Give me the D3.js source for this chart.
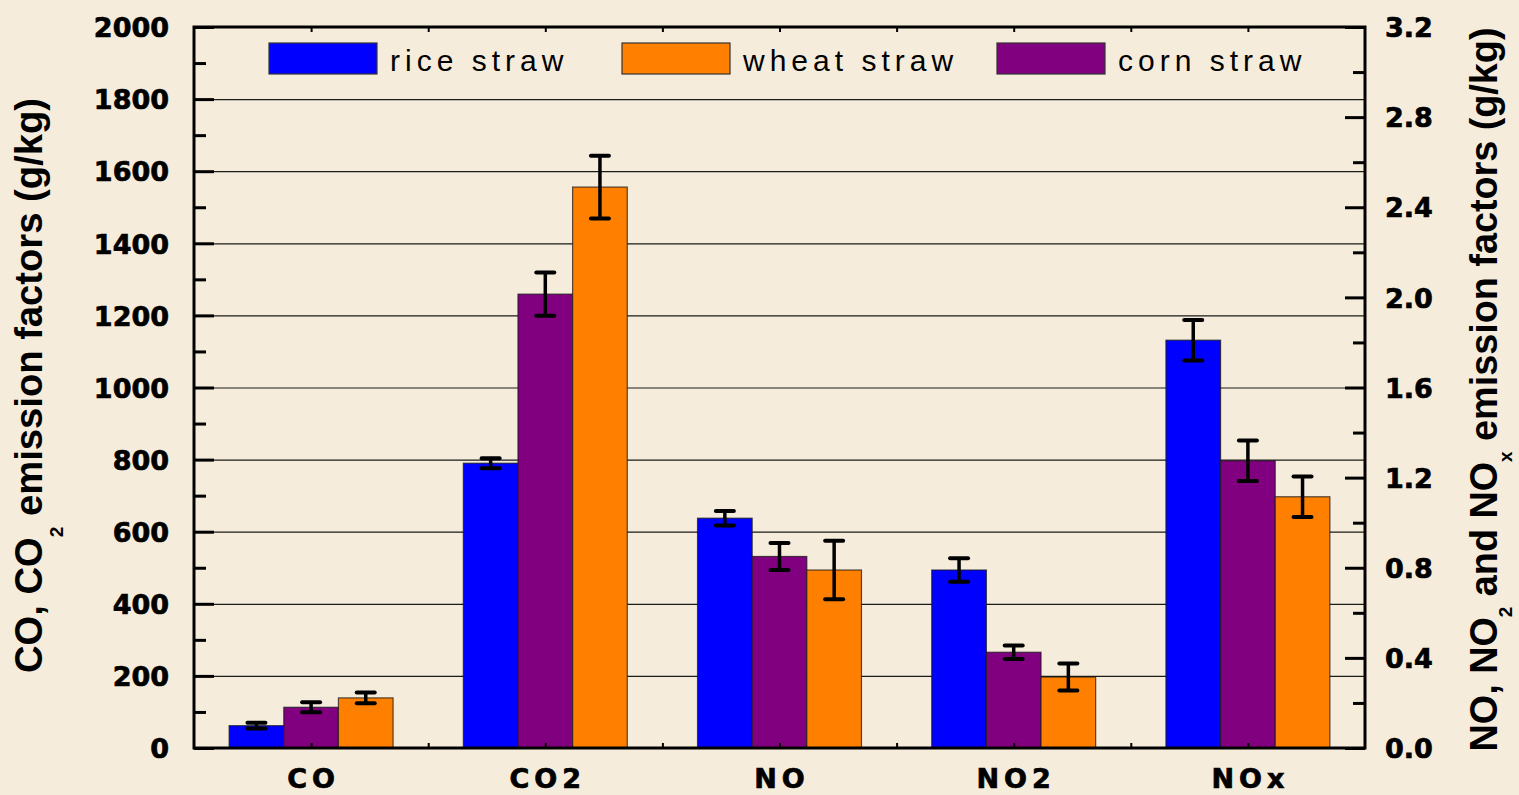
<!DOCTYPE html>
<html>
<head>
<meta charset="utf-8">
<script src="https://cdn.jsdelivr.net/npm/d3@7"></script>
<style>
  html, body { margin: 0; padding: 0; background: #f6ecdc; }
  svg { display: block; }
</style>
</head>
<body>
<div id="chart"></div>
<script>
// categories and series (CO, CO2 on left axis in g/kg; NO, NO2, NOx on right axis in g/kg)
const categories = ["CO", "CO2", "NO", "NO2", "NOx"];
const onRight = [false, false, true, true, true];
const seriesNames = ["rice straw", "corn straw", "wheat straw"];   // bar order in each group
const legendOrder = ["rice straw", "wheat straw", "corn straw"];
const colors = {"rice straw": "#0000ff", "corn straw": "#800080", "wheat straw": "#ff8000"};

const riceValues  = [62, 790, 1.02, 0.79, 1.81];
const cornValues  = [113, 1259, 0.85, 0.425, 1.275];
const wheatValues = [139, 1556, 0.79, 0.315, 1.115];
const riceErr  = [8, 14, 0.032, 0.052, 0.09];
const cornErr  = [14, 60, 0.06, 0.03, 0.09];
const wheatErr = [15, 87, 0.13, 0.06, 0.09];

const leftTicks = [0, 200, 400, 600, 800, 1000, 1200, 1400, 1600, 1800, 2000];
const rightTicks = [0, 0.4, 0.8, 1.2, 1.6, 2.0, 2.4, 2.8, 3.2];

const W = 1519, H = 795;
const plot = {left: 194, right: 1365, top: 27, bottom: 748};

const svg = d3.select("#chart").append("svg").attr("width", W).attr("height", H);

const x = d3.scaleBand().domain(categories).range([plot.left, plot.right]).padding(0);
const xs = d3.scaleBand().domain(seriesNames)
  .range([x.bandwidth() * 0.15, x.bandwidth() * 0.85]).padding(0);
const xIdx = d3.scaleLinear().domain([0, categories.length]).range([plot.left, plot.right]);
const yL = d3.scaleLinear().domain([0, 2000]).range([plot.bottom, plot.top]);
const yR = d3.scaleLinear().domain([0, 3.2]).range([plot.bottom, plot.top]);

const valuesBy = {"rice straw": riceValues, "corn straw": cornValues, "wheat straw": wheatValues};
const errBy = {"rice straw": riceErr, "corn straw": cornErr, "wheat straw": wheatErr};

const tickFont = "'DejaVu Sans', sans-serif";
const boldText = sel => sel.attr("font-family", tickFont).attr("font-weight", "bold")
  .attr("font-size", 27).attr("fill", "#000").attr("stroke", "#000").attr("stroke-width", 0.7);

// grid lines
svg.append("g")
  .attr("transform", `translate(${plot.left},0)`)
  .call(d3.axisLeft(yL).tickValues(leftTicks.slice(1, -1)).tickSize(-(plot.right - plot.left)).tickFormat(""))
  .call(g => g.select(".domain").remove())
  .selectAll("line").attr("stroke", "#1a1a1a").attr("stroke-width", 1.2);

// bars
const rows = [];
categories.forEach((c, i) => {
  seriesNames.forEach(s => {
    rows.push({cat: c, series: s, value: valuesBy[s][i], err: errBy[s][i], y: onRight[i] ? yR : yL});
  });
});

const groups = svg.append("g").selectAll("g").data(rows).join("g");
groups.append("rect")
  .attr("x", d => x(d.cat) + xs(d.series))
  .attr("width", xs.bandwidth())
  .attr("y", d => d.y(d.value))
  .attr("height", d => d.y(0) - d.y(d.value))
  .attr("fill", d => colors[d.series])
  .attr("stroke", "#1a1a1a").attr("stroke-opacity", 0.75).attr("stroke-width", 1.2);

// error bars
const cx = d => x(d.cat) + xs(d.series) + xs.bandwidth() / 2;
groups.append("line")
  .attr("x1", cx).attr("x2", cx)
  .attr("y1", d => d.y(d.value - d.err)).attr("y2", d => d.y(d.value + d.err))
  .attr("stroke", "#000").attr("stroke-width", 3.5);
[-1, 1].forEach(sign => {
  groups.append("line")
    .attr("x1", d => cx(d) - 9).attr("x2", d => cx(d) + 9)
    .attr("y1", d => d.y(d.value + sign * d.err)).attr("y2", d => d.y(d.value + sign * d.err))
    .attr("stroke", "#000").attr("stroke-width", 4).attr("stroke-linecap", "round");
});

// left axis
svg.append("g")
  .attr("transform", `translate(${plot.left},0)`)
  .call(d3.axisLeft(yL).tickValues(d3.range(100, 2000, 200)).tickSize(-12).tickFormat(""))
  .call(g => g.select(".domain").remove())
  .selectAll("line").attr("stroke", "#000").attr("stroke-width", 3);
svg.append("g")
  .attr("transform", `translate(${plot.left},0)`)
  .call(d3.axisLeft(yL).tickValues(leftTicks).tickSizeInner(-20).tickSizeOuter(0).tickPadding(25).tickFormat(d3.format("d")))
  .call(g => g.select(".domain").remove())
  .call(g => g.selectAll("line").attr("stroke", "#000").attr("stroke-width", 3))
  .call(g => g.selectAll("text").call(boldText).attr("dy", "0.36em"));

// right axis
svg.append("g")
  .attr("transform", `translate(${plot.right},0)`)
  .call(d3.axisRight(yR).tickValues(d3.range(0.2, 3.2, 0.4)).tickSize(-12).tickFormat(""))
  .call(g => g.select(".domain").remove())
  .selectAll("line").attr("stroke", "#000").attr("stroke-width", 3);
svg.append("g")
  .attr("transform", `translate(${plot.right},0)`)
  .call(d3.axisRight(yR).tickValues(rightTicks).tickSizeInner(-20).tickSizeOuter(0).tickPadding(20).tickFormat(d3.format(".1f")))
  .call(g => g.select(".domain").remove())
  .call(g => g.selectAll("line").attr("stroke", "#000").attr("stroke-width", 3))
  .call(g => g.selectAll("text").call(boldText).attr("dy", "0.36em"));

// top and bottom small ticks
const halfTicks = d3.range(1, categories.length * 2).map(i => i / 2);
svg.append("g")
  .attr("transform", `translate(0,${plot.bottom})`)
  .call(d3.axisBottom(xIdx).tickValues(halfTicks).tickSize(-5).tickFormat(""))
  .call(g => g.select(".domain").remove())
  .selectAll("line").attr("stroke", "#000").attr("stroke-width", 2);
svg.append("g")
  .attr("transform", `translate(0,${plot.top})`)
  .call(d3.axisTop(xIdx).tickValues(halfTicks).tickSize(-5).tickFormat(""))
  .call(g => g.select(".domain").remove())
  .selectAll("line").attr("stroke", "#000").attr("stroke-width", 2);

// category labels
svg.append("g")
  .attr("transform", `translate(0,${plot.bottom})`)
  .call(d3.axisBottom(x).tickSize(0).tickPadding(0))
  .call(g => g.select(".domain").remove())
  .call(g => g.selectAll("text").call(boldText).attr("letter-spacing", "5px")
    .attr("y", 40).attr("dy", 0).attr("dx", 2.5));

// frame
svg.append("rect")
  .attr("x", plot.left).attr("y", plot.top)
  .attr("width", plot.right - plot.left).attr("height", plot.bottom - plot.top)
  .attr("fill", "none").attr("stroke", "#000").attr("stroke-width", 3);

// legend
const legendX = [269, 622, 997];
const leg = svg.append("g").selectAll("g").data(legendOrder).join("g")
  .attr("transform", (d, i) => `translate(${legendX[i]},43)`);
leg.append("rect").attr("width", 108).attr("height", 31)
  .attr("fill", d => colors[d]).attr("stroke", "#333").attr("stroke-width", 1.2);
leg.append("text").attr("x", 121).attr("y", 28)
  .attr("font-family", "'Liberation Sans', Arial, sans-serif").attr("font-size", 30)
  .attr("letter-spacing", "5px").attr("fill", "#000").text(d => d);

// axis titles
const titleFont = "'Liberation Sans', Arial, sans-serif";
const lt = svg.append("text")
  .attr("transform", `translate(42,${(plot.top + plot.bottom) / 2 - 2}) rotate(-90)`)
  .attr("text-anchor", "middle").attr("font-family", titleFont).attr("font-weight", "bold")
  .attr("font-size", 38).attr("fill", "#000")
  .attr("textLength", 575).attr("lengthAdjust", "spacingAndGlyphs");
lt.append("tspan").text("CO, CO");
lt.append("tspan").attr("font-size", 19).attr("dy", 21).text("2");
lt.append("tspan").attr("dy", -21).text(" emission factors (g/kg)");

const rt = svg.append("text")
  .attr("transform", `translate(1497,${(plot.top + plot.bottom) / 2 + 2}) rotate(-90)`)
  .attr("text-anchor", "middle").attr("font-family", titleFont).attr("font-weight", "bold")
  .attr("font-size", 38).attr("fill", "#000")
  .attr("textLength", 724).attr("lengthAdjust", "spacingAndGlyphs");
rt.append("tspan").text("NO, NO");
rt.append("tspan").attr("font-size", 19).attr("dy", 15).text("2");
rt.append("tspan").attr("dy", -15).text(" and NO");
rt.append("tspan").attr("font-size", 19).attr("dy", 15).text("x");
rt.append("tspan").attr("dy", -15).text(" emission factors (g/kg)");
</script>
</body>
</html>
